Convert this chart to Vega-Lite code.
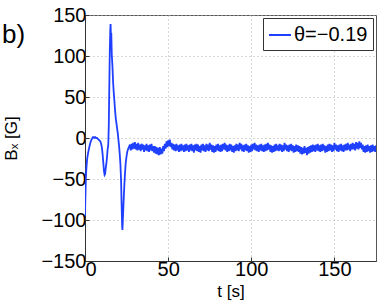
{
"$schema":"https://vega.github.io/schema/vega-lite/v6.json",
"autosize":"none",
"width":291,"height":246,
"padding":{"left":85,"top":15,"right":6,"bottom":44},
"background":"white",
"title":{"text":"b)","anchor":"start","frame":"group","orient":"top","fontSize":26,"font":"Liberation Sans","fontWeight":"normal","color":"black","dx":-83,"dy":64,"baseline":"alphabetic","offset":0},
"config":{"font":"Liberation Sans","view":{"stroke":"#555","strokeWidth":1},
 "axis":{"labelFont":"Liberation Sans","labelFontSize":20,"labelColor":"black","titleFont":"Liberation Sans","titleFontWeight":"normal","titleColor":"black","domainColor":"#333","tickColor":"#333","gridColor":"#b0b0b0","gridDash":[1,3],"gridWidth":1,"tickSize":-4}},
"data":{"values":[
{"t":0,"Bx":-95},{"t":0.2,"Bx":-75},{"t":0.5,"Bx":-50},{"t":0.8,"Bx":-38},{"t":1.1,"Bx":-30},{"t":1.4,"Bx":-24},{"t":1.8,"Bx":-19},{"t":2.2,"Bx":-15},{"t":2.7,"Bx":-10},{"t":3.2,"Bx":-6},{"t":3.7,"Bx":-3},{"t":4.2,"Bx":-1},{"t":4.7,"Bx":1},{"t":5.2,"Bx":1},{"t":5.7,"Bx":0},{"t":6.2,"Bx":1},{"t":6.7,"Bx":0},{"t":7.2,"Bx":0},{"t":7.7,"Bx":-1},{"t":8.2,"Bx":-2},{"t":8.7,"Bx":-3},{"t":9.2,"Bx":-4},{"t":9.7,"Bx":-7},{"t":10.2,"Bx":-12},{"t":10.6,"Bx":-20},{"t":11.0,"Bx":-30},{"t":11.4,"Bx":-40},{"t":11.8,"Bx":-45},{"t":12.1,"Bx":-44},{"t":12.4,"Bx":-38},{"t":12.8,"Bx":-32},{"t":13.2,"Bx":-24},{"t":13.6,"Bx":-14},{"t":14.0,"Bx":-8},{"t":14.3,"Bx":15},{"t":14.6,"Bx":60},{"t":14.9,"Bx":105},{"t":15.2,"Bx":132},{"t":15.4,"Bx":139},{"t":15.6,"Bx":122},{"t":15.8,"Bx":128},{"t":16.1,"Bx":102},{"t":16.5,"Bx":88},{"t":16.9,"Bx":68},{"t":17.3,"Bx":55},{"t":17.7,"Bx":45},{"t":18.1,"Bx":33},{"t":18.5,"Bx":24},{"t":18.9,"Bx":18},{"t":19.3,"Bx":12},{"t":19.7,"Bx":6},{"t":20.1,"Bx":-2},{"t":20.5,"Bx":-10},{"t":20.9,"Bx":-20},{"t":21.3,"Bx":-32},{"t":21.7,"Bx":-52},{"t":22.0,"Bx":-80},{"t":22.3,"Bx":-105},{"t":22.5,"Bx":-112},{"t":22.8,"Bx":-98},{"t":23.2,"Bx":-78},{"t":23.6,"Bx":-60},{"t":24.0,"Bx":-45},{"t":24.5,"Bx":-30},{"t":25.0,"Bx":-22},{"t":25.5,"Bx":-16},{"t":26.0,"Bx":-13},{"t":26.5,"Bx":-11},
{"t":27,"Bx":-8},{"t":27.5,"Bx":-15},{"t":28,"Bx":-7},{"t":28.5,"Bx":-14},{"t":29,"Bx":-6},{"t":29.5,"Bx":-13},{"t":30,"Bx":-5},{"t":30.5,"Bx":-14},{"t":31,"Bx":-7},{"t":31.5,"Bx":-15},
{"t":32,"Bx":-6},{"t":32.5,"Bx":-14},{"t":33,"Bx":-8},{"t":33.5,"Bx":-16},{"t":34,"Bx":-7},{"t":34.5,"Bx":-14},{"t":35,"Bx":-8},{"t":35.5,"Bx":-17},{"t":36,"Bx":-9},{"t":36.5,"Bx":-15},
{"t":37,"Bx":-7},{"t":37.5,"Bx":-16},{"t":38,"Bx":-9},{"t":38.5,"Bx":-17},{"t":39,"Bx":-8},{"t":39.5,"Bx":-15},{"t":40,"Bx":-7},{"t":40.5,"Bx":-16},{"t":41,"Bx":-10},{"t":41.5,"Bx":-18},
{"t":42,"Bx":-10},{"t":42.5,"Bx":-19},{"t":43,"Bx":-11},{"t":43.5,"Bx":-20},{"t":44,"Bx":-12},{"t":44.5,"Bx":-21},{"t":45,"Bx":-11},{"t":45.5,"Bx":-20},{"t":46,"Bx":-13},{"t":46.5,"Bx":-19},
{"t":47,"Bx":-10},{"t":47.5,"Bx":-16},{"t":48,"Bx":-7},{"t":48.5,"Bx":-13},{"t":49,"Bx":-4},{"t":49.5,"Bx":-11},{"t":50,"Bx":-3},{"t":50.5,"Bx":-10},{"t":51,"Bx":-2},{"t":51.5,"Bx":-11},
{"t":52,"Bx":-6},{"t":52.5,"Bx":-14},{"t":53,"Bx":-7},{"t":53.5,"Bx":-15},{"t":54,"Bx":-8},{"t":54.5,"Bx":-16},{"t":55,"Bx":-7},{"t":55.5,"Bx":-15},{"t":56,"Bx":-9},{"t":56.5,"Bx":-17},
{"t":57,"Bx":-8},{"t":57.5,"Bx":-16},{"t":58,"Bx":-7},{"t":58.5,"Bx":-15},{"t":59,"Bx":-9},{"t":59.5,"Bx":-17},{"t":60,"Bx":-8},{"t":60.5,"Bx":-16},{"t":61,"Bx":-7},{"t":61.5,"Bx":-15},
{"t":62,"Bx":-9},{"t":62.5,"Bx":-17},{"t":63,"Bx":-8},{"t":63.5,"Bx":-15},{"t":64,"Bx":-7},{"t":64.5,"Bx":-16},{"t":65,"Bx":-9},{"t":65.5,"Bx":-18},{"t":66,"Bx":-8},{"t":66.5,"Bx":-15},
{"t":67,"Bx":-7},{"t":67.5,"Bx":-16},{"t":68,"Bx":-8},{"t":68.5,"Bx":-17},{"t":69,"Bx":-10},{"t":69.5,"Bx":-18},{"t":70,"Bx":-8},{"t":70.5,"Bx":-15},{"t":71,"Bx":-7},{"t":71.5,"Bx":-16},
{"t":72,"Bx":-9},{"t":72.5,"Bx":-17},{"t":73,"Bx":-7},{"t":73.5,"Bx":-15},{"t":74,"Bx":-8},{"t":74.5,"Bx":-16},{"t":75,"Bx":-6},{"t":75.5,"Bx":-14},{"t":76,"Bx":-8},{"t":76.5,"Bx":-17},
{"t":77,"Bx":-9},{"t":77.5,"Bx":-18},{"t":78,"Bx":-10},{"t":78.5,"Bx":-17},{"t":79,"Bx":-8},{"t":79.5,"Bx":-15},{"t":80,"Bx":-7},{"t":80.5,"Bx":-16},{"t":81,"Bx":-9},{"t":81.5,"Bx":-17},
{"t":82,"Bx":-8},{"t":82.5,"Bx":-16},{"t":83,"Bx":-7},{"t":83.5,"Bx":-14},{"t":84,"Bx":-6},{"t":84.5,"Bx":-15},{"t":85,"Bx":-8},{"t":85.5,"Bx":-17},{"t":86,"Bx":-9},{"t":86.5,"Bx":-16},
{"t":87,"Bx":-7},{"t":87.5,"Bx":-15},{"t":88,"Bx":-8},{"t":88.5,"Bx":-17},{"t":89,"Bx":-10},{"t":89.5,"Bx":-18},{"t":90,"Bx":-9},{"t":90.5,"Bx":-16},{"t":91,"Bx":-7},{"t":91.5,"Bx":-15},
{"t":92,"Bx":-8},{"t":92.5,"Bx":-16},{"t":93,"Bx":-6},{"t":93.5,"Bx":-14},{"t":94,"Bx":-7},{"t":94.5,"Bx":-16},{"t":95,"Bx":-9},{"t":95.5,"Bx":-17},{"t":96,"Bx":-8},{"t":96.5,"Bx":-15},
{"t":97,"Bx":-7},{"t":97.5,"Bx":-16},{"t":98,"Bx":-9},{"t":98.5,"Bx":-18},{"t":99,"Bx":-10},{"t":99.5,"Bx":-17},{"t":100,"Bx":-8},{"t":100.5,"Bx":-16},{"t":101,"Bx":-7},{"t":101.5,"Bx":-14},
{"t":102,"Bx":-6},{"t":102.5,"Bx":-15},{"t":103,"Bx":-8},{"t":103.5,"Bx":-16},{"t":104,"Bx":-9},{"t":104.5,"Bx":-17},{"t":105,"Bx":-8},{"t":105.5,"Bx":-15},{"t":106,"Bx":-7},{"t":106.5,"Bx":-16},
{"t":107,"Bx":-9},{"t":107.5,"Bx":-17},{"t":108,"Bx":-8},{"t":108.5,"Bx":-16},{"t":109,"Bx":-7},{"t":109.5,"Bx":-15},{"t":110,"Bx":-6},{"t":110.5,"Bx":-14},{"t":111,"Bx":-8},{"t":111.5,"Bx":-17},
{"t":112,"Bx":-9},{"t":112.5,"Bx":-18},{"t":113,"Bx":-10},{"t":113.5,"Bx":-17},{"t":114,"Bx":-8},{"t":114.5,"Bx":-16},{"t":115,"Bx":-7},{"t":115.5,"Bx":-15},{"t":116,"Bx":-9},{"t":116.5,"Bx":-16},
{"t":117,"Bx":-7},{"t":117.5,"Bx":-15},{"t":118,"Bx":-8},{"t":118.5,"Bx":-17},{"t":119,"Bx":-9},{"t":119.5,"Bx":-16},{"t":120,"Bx":-6},{"t":120.5,"Bx":-14},{"t":121,"Bx":-8},{"t":121.5,"Bx":-16},
{"t":122,"Bx":-9},{"t":122.5,"Bx":-17},{"t":123,"Bx":-8},{"t":123.5,"Bx":-15},{"t":124,"Bx":-7},{"t":124.5,"Bx":-16},{"t":125,"Bx":-9},{"t":125.5,"Bx":-18},{"t":126,"Bx":-10},{"t":126.5,"Bx":-17},
{"t":127,"Bx":-8},{"t":127.5,"Bx":-16},{"t":128,"Bx":-9},{"t":128.5,"Bx":-17},{"t":129,"Bx":-10},{"t":129.5,"Bx":-19},{"t":130,"Bx":-11},{"t":130.5,"Bx":-20},{"t":131,"Bx":-12},{"t":131.5,"Bx":-19},
{"t":132,"Bx":-10},{"t":132.5,"Bx":-18},{"t":133,"Bx":-12},{"t":133.5,"Bx":-21},{"t":134,"Bx":-11},{"t":134.5,"Bx":-19},{"t":135,"Bx":-10},{"t":135.5,"Bx":-18},{"t":136,"Bx":-9},{"t":136.5,"Bx":-17},
{"t":137,"Bx":-8},{"t":137.5,"Bx":-16},{"t":138,"Bx":-9},{"t":138.5,"Bx":-17},{"t":139,"Bx":-8},{"t":139.5,"Bx":-15},{"t":140,"Bx":-7},{"t":140.5,"Bx":-16},{"t":141,"Bx":-9},{"t":141.5,"Bx":-17},
{"t":142,"Bx":-8},{"t":142.5,"Bx":-16},{"t":143,"Bx":-7},{"t":143.5,"Bx":-15},{"t":144,"Bx":-9},{"t":144.5,"Bx":-18},{"t":145,"Bx":-10},{"t":145.5,"Bx":-17},{"t":146,"Bx":-8},{"t":146.5,"Bx":-16},
{"t":147,"Bx":-7},{"t":147.5,"Bx":-15},{"t":148,"Bx":-8},{"t":148.5,"Bx":-17},{"t":149,"Bx":-9},{"t":149.5,"Bx":-16},{"t":150,"Bx":-6},{"t":150.5,"Bx":-14},{"t":151,"Bx":-8},{"t":151.5,"Bx":-16},
{"t":152,"Bx":-9},{"t":152.5,"Bx":-17},{"t":153,"Bx":-8},{"t":153.5,"Bx":-15},{"t":154,"Bx":-7},{"t":154.5,"Bx":-16},{"t":155,"Bx":-9},{"t":155.5,"Bx":-17},{"t":156,"Bx":-8},{"t":156.5,"Bx":-15},
{"t":157,"Bx":-7},{"t":157.5,"Bx":-15},{"t":158,"Bx":-6},{"t":158.5,"Bx":-14},{"t":159,"Bx":-8},{"t":159.5,"Bx":-16},{"t":160,"Bx":-7},{"t":160.5,"Bx":-14},{"t":161,"Bx":-6},{"t":161.5,"Bx":-14},
{"t":162,"Bx":-7},{"t":162.5,"Bx":-15},{"t":163,"Bx":-5},{"t":163.5,"Bx":-13},{"t":164,"Bx":-6},{"t":164.5,"Bx":-14},{"t":165,"Bx":-4},{"t":165.5,"Bx":-12},{"t":166,"Bx":-6},{"t":166.5,"Bx":-14},
{"t":167,"Bx":-8},{"t":167.5,"Bx":-17},{"t":168,"Bx":-10},{"t":168.5,"Bx":-18},{"t":169,"Bx":-9},{"t":169.5,"Bx":-17},{"t":170,"Bx":-8},{"t":170.5,"Bx":-16},{"t":171,"Bx":-10},{"t":171.5,"Bx":-18},
{"t":172,"Bx":-9},{"t":172.5,"Bx":-17},{"t":173,"Bx":-8},{"t":173.5,"Bx":-16},{"t":174,"Bx":-10},{"t":174.5,"Bx":-17},{"t":175,"Bx":-9}
]},
"mark":{"type":"line","strokeWidth":1.8,"clip":true},
"encoding":{
 "x":{"field":"t","type":"quantitative","scale":{"domain":[0,175],"nice":false},
  "axis":{"values":[0,50,100,150],"title":"t [s]","titleFontSize":17,"titlePadding":4,"labelPadding":2,"grid":true}},
 "y":{"field":"Bx","type":"quantitative","scale":{"domain":[-150,150],"nice":false},
  "axis":{"values":[-150,-100,-50,0,50,100,150],"title":"Bₓ [G]","titleFontSize":17,"titleX":-74,"titleY":123,"titleAngle":-90,"titleAlign":"center","titleBaseline":"middle","labelPadding":3,"grid":true}},
 "color":{"datum":"θ=−0.19","scale":{"range":["#2040ff"]},
  "legend":{"title":null,"orient":"top-right","offset":3,"fillColor":"white","strokeColor":"#333","padding":5,"symbolType":"stroke","symbolSize":484,"symbolStrokeWidth":2,"labelFontSize":20,"labelFont":"Liberation Sans","labelColor":"black","labelOffset":2}}
}
}
